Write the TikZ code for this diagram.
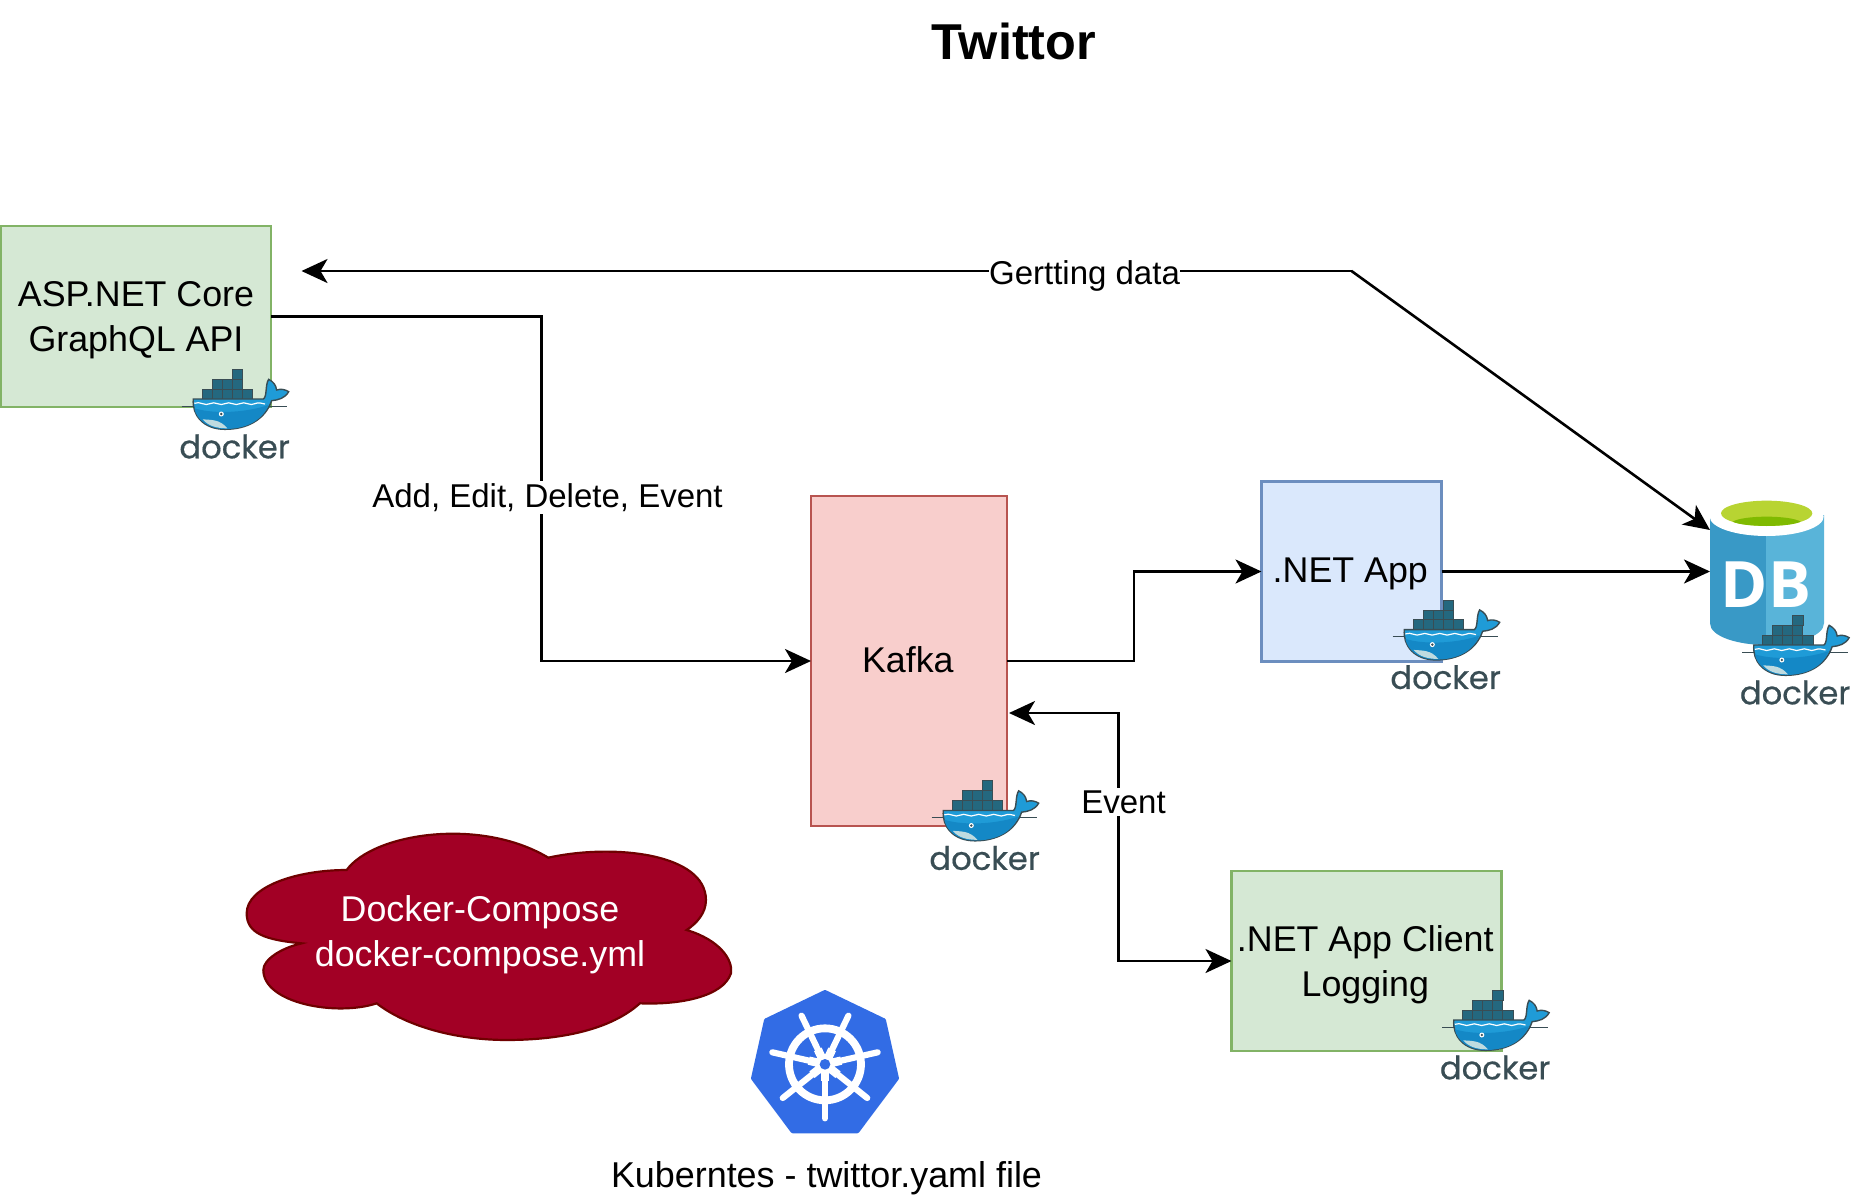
\documentclass[tikz,border=0pt]{standalone}
\usepackage{fontspec}
\setmainfont{Liberation Sans}
\newfontfamily\dockerfont[FakeBold=0.5]{Poppins}
\newfontfamily\dbfont{Open Sans}
\usetikzlibrary{arrows.meta}
\definecolor{dkline}{HTML}{394D54}
\definecolor{dkbox}{HTML}{24687F}
\definecolor{dkwhale}{HTML}{1F9BD7}
\definecolor{dkdeep}{HTML}{1488C6}
\definecolor{dklight}{HTML}{BFDBE0}
\definecolor{grnf}{HTML}{D5E8D4}\definecolor{grnd}{HTML}{82B366}
\definecolor{redf}{HTML}{F8CECC}\definecolor{redd}{HTML}{B85450}
\definecolor{bluf}{HTML}{DAE8FC}\definecolor{blud}{HTML}{6C8EBF}
\definecolor{cloudf}{HTML}{A20025}\definecolor{cloudd}{HTML}{6F0000}
\definecolor{kube}{HTML}{326CE5}
\definecolor{dbl}{HTML}{3999C6}\definecolor{dbr}{HTML}{59B4D9}
\definecolor{dbg}{HTML}{B8D432}\definecolor{dbh}{HTML}{7FBA00}
\newcommand\shiftt[2]{\raisebox{#1}[\height][\depth]{#2}}
\tikzset{
  box/.style={draw=#1,line width=1.4pt,outer sep=0pt,align=center,font=\fontsize{17.9}{22.5}\selectfont,inner sep=0pt},
  lbl/.style={fill=white,font=\fontsize{16.5}{20}\selectfont,inner xsep=0pt,inner ysep=1pt},
  plain/.style={font=\fontsize{17.9}{22.5}\selectfont,align=center,inner sep=0pt},
  conn/.style={line width=1.3pt,-{Stealth[length=13pt,width=12pt,inset=3.5pt]}},
  connb/.style={line width=1.3pt,{Stealth[length=13pt,width=12pt,inset=3.5pt]}-{Stealth[length=13pt,width=12pt,inset=3.5pt]}},
  cnt/.style={draw=dkline,fill=dkbox,line width=0.35pt},
  dockerlogo/.pic={
    \begin{scope}[scale=0.3333]
      % containers
      \foreach \a in {157,187,217,247,277}{\filldraw[cnt] (\a,147) rectangle ++(31,30);}
      \foreach \a in {187,217,247}{\filldraw[cnt] (\a,118) rectangle ++(30,29);}
      \filldraw[cnt] (247,88) rectangle ++(31,30);
      % water lines
      \draw[dkline,line width=0.5pt] (95,198) -- (135,198) (355,198) -- (412,198);
      % whale
      \filldraw[draw=dkline,line width=0.7pt,fill=dkwhale] (130,177) -- (340,177)
        .. controls (352,170) and (345,135) .. (356,118)
        .. controls (370,125) and (378,135) .. (380,150)
        .. controls (392,146) and (405,148) .. (416,155)
        .. controls (405,175) and (385,180) .. (365,182)
        .. controls (345,240) and (290,268) .. (225,268)
        .. controls (160,268) and (125,225) .. (130,177) -- cycle;
      \fill[dkdeep] (133,205) .. controls (200,225) and (300,215) .. (355,195)
        .. controls (335,245) and (285,267) .. (225,267)
        .. controls (175,267) and (140,240) .. (133,205) -- cycle;
      \fill[dklight] (158,238) .. controls (185,240) and (210,238) .. (232,265)
        .. controls (200,265) and (175,258) .. (158,238) -- cycle;
      \draw[white,line width=0.6pt] (133,190) .. controls (150,182) and (165,200) .. (180,191)
        .. controls (195,182) and (210,200) .. (225,191) .. controls (240,182) and (255,200) .. (270,191)
        .. controls (285,182) and (300,200) .. (315,191) .. controls (325,186) and (335,190) .. (345,192);
      \fill[white] (214,222) circle (7.5);
      \fill[dkline] (214,222) circle (4);
      \node[anchor=base west,inner sep=0pt,text=dkline] (word) at (87,355)
        {\dockerfont\fontsize{16.1}{18}\selectfont docker};
    \end{scope}
  }
}
\begin{document}
\begin{tikzpicture}[x=0.5pt,y=-0.5pt]
\useasboundingbox[fill=white] (0,0) rectangle (1854,1200);

% title
\node[font=\bfseries\fontsize{25.2}{28}\selectfont,inner sep=0pt] (title) at (1014,41) {Twittor};

% boxes
\node[box=grnd,fill=grnf,minimum width=135pt,minimum height=90.5pt] (api) at (136,316.5) {\shiftt{-1.8pt}{ASP.NET Core}\\\shiftt{-1.8pt}{GraphQL API}};
\node[box=redd,fill=redf,minimum width=98pt,minimum height=165pt] (kafka) at (909,661) {\shiftt{0.9pt}{Kafka\hspace{1.2pt}}};
\node[box=blud,fill=bluf,minimum width=90pt,minimum height=90pt] (app) at (1351.5,571.5) {\shiftt{-1.2pt}{.NET App\hspace{1.2pt}}};
\node[box=grnd,fill=grnf,minimum width=135pt,minimum height=90pt] (log) at (1366.5,961) {\shiftt{-1.8pt}{.NET App Client\hspace{1.2pt}}\\\shiftt{-1.8pt}{Logging\hspace{1.2pt}}};

% database
\begin{scope}[shift={(1680,480)},scale=0.3333]
  \fill[dbl] (90,105) -- (90,430) .. controls (90,470) and (175,495) .. (258,495) -- (258,105) -- cycle;
  \fill[dbr] (258,105) -- (258,495) .. controls (345,495) and (432,470) .. (432,430) -- (432,105) -- cycle;
  \fill[white] (260,110) ellipse (171 and 58);
  \fill[dbg] (260,100) ellipse (137 and 38);
  \fill[dbh] (158,125) .. controls (190,105) and (330,105) .. (362,125) .. controls (330,142) and (190,142) .. (158,125) -- cycle;
\end{scope}
\node[inner sep=0pt,outer sep=0pt,minimum width=57pt,minimum height=72pt] (db) at (1767,571.5) {};
\node[inner sep=0pt,text=white,font=\dbfont\bfseries\fontsize{32}{36}\selectfont] (dbtext) at (1766,585) {DB};

% connector way-points
\coordinate (c1) at (541.5,316.5);
\coordinate (c2) at (541.5,661);
\coordinate (c3) at (1134,661);
\coordinate (c4) at (1134,571.5);
\coordinate (c5) at (1118.5,713);
\coordinate (c6) at (1118.5,961);
\coordinate (kin) at (1009,713);
\coordinate (gs) at (1710,530);
\coordinate (g1) at (1351.5,271);
\coordinate (ge) at (301.5,271);

% connectors
\draw[conn] (api.east) -- (c1) -- (c2) -- (kafka.west);
\draw[conn] (kafka.east) -- (c3) -- (c4) -- (app.west);
\draw[conn] (app.east) -- (db.west);
\draw[conn] (g1) -- (ge);
\draw[conn] (g1) -- (gs);
\draw[connb] (kin) -- (c5) -- (c6) -- (log.west);

% connector labels
\node[lbl] (l1) at (547.5,497.5) {Add, Edit, Delete, Event};
\node[lbl] (l2) at (1084.5,275.5) {Gertting data};
\node[lbl] (l3) at (1123.5,802) {Event};

% docker logos
\pic (d1) at (150,340) {dockerlogo};
\pic (d2) at (900,751.5) {dockerlogo};
\pic (d3) at (1361,570.6) {dockerlogo};
\pic (d4) at (1710.5,586) {dockerlogo};
\pic (d5) at (1410.5,961) {dockerlogo};

% cloud
\begin{scope}[shift={(230,820)},scale=0.3333]
\draw[fill=cloudf,draw=cloudd,line width=1.1pt] (350,150)
  .. controls (430,40) and (750,-10) .. (955,113)
  .. controls (1150,70) and (1428,100) .. (1428,240)
  .. controls (1428,280) and (1400,310) .. (1370,330)
  .. controls (1470,360) and (1510,420) .. (1503,460)
  .. controls (1480,530) and (1350,555) .. (1230,550)
  .. controls (1130,640) and (960,660) .. (830,660)
  .. controls (680,660) and (530,620) .. (440,550)
  .. controls (320,590) and (100,550) .. (100,450)
  .. controls (100,420) and (150,385) .. (215,370)
  .. controls (105,360) and (50,340) .. (50,280)
  .. controls (50,200) and (200,150) .. (350,150) -- cycle;
\end{scope}
\node[plain,text=white] (cloud) at (480,935) {Docker-Compose\\docker-compose.yml};

% kubernetes wheel
\begin{scope}[shift={(730,970)},scale=0.3333]
  \fill[kube,draw=kube,line width=2pt,line join=round] (285,66) -- (462,151) -- (501,325) -- (382,484) -- (188,484) -- (69,325) -- (108,151) -- cycle;
  \draw[white,line width=3.9pt] (285,283) circle (108);
  \foreach \t in {90,141.43,192.86,244.29,295.71,347.14,398.57}{
    \draw[white,line width=3.1pt,line cap=round] (285,283) -- ++(\t:-162 and 162);
    \draw[white,line width=4.2pt] (285,283) -- ++(\t:-50 and 50);
  }
  \fill[white] (285,283) circle (30);
  \fill[kube] (285,283) circle (16);
\end{scope}
\node[plain,font=\fontsize{17.95}{22}\selectfont] (kube) at (826.5,1178) {Kuberntes - twittor.yaml file};
\end{tikzpicture}
\end{document}
